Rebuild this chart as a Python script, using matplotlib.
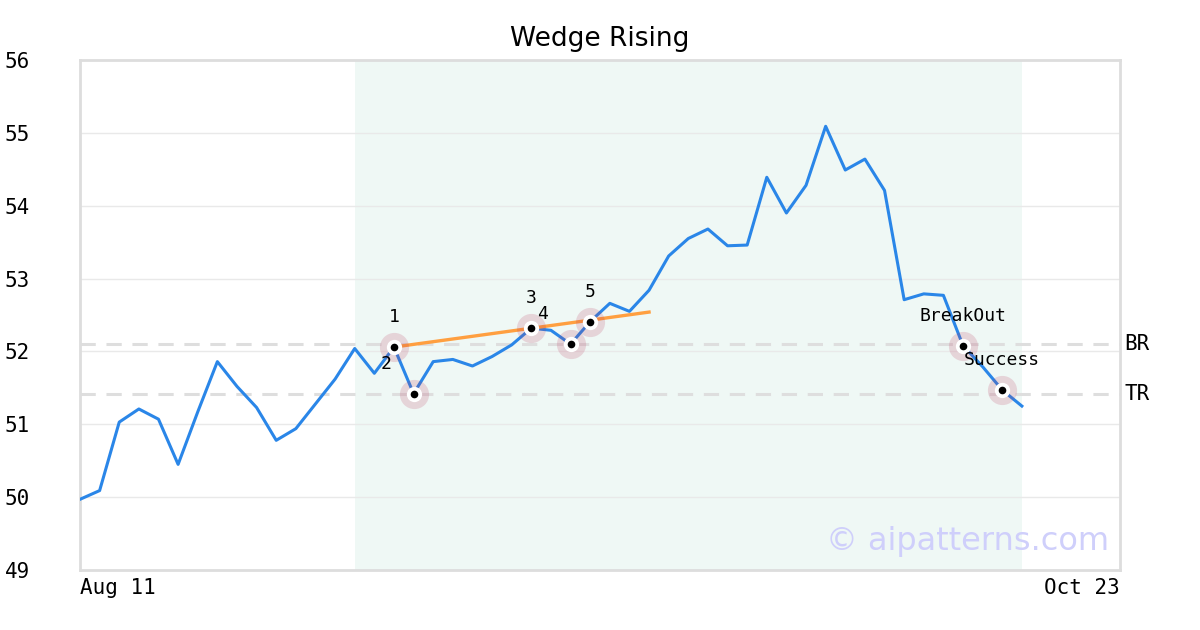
import matplotlib
matplotlib.use("Agg")
import matplotlib.pyplot as plt

# ---- data ----
values = [49.97, 50.09, 51.03, 51.21, 51.07, 50.45, 51.17, 51.86, 51.52, 51.23,
          50.78, 50.94, 51.28, 51.62, 52.04, 51.70, 52.06, 51.42, 51.86, 51.89,
          51.80, 51.93, 52.09, 52.32, 52.29, 52.10, 52.41, 52.66, 52.55, 52.84,
          53.31, 53.55, 53.68, 53.45, 53.46, 54.39, 53.90, 54.28, 55.09, 54.49,
          54.64, 54.21, 52.71, 52.79, 52.77, 52.08, 51.79, 51.47, 51.25]
x_start_label = "Aug 11"
x_end_label = "Oct 23"
x_max = 53
pattern_points = [16, 17, 23, 25, 26]          # indices of points 1..5
pattern_labels = ["1", "2", "3", "4", "5"]
event_points = [45, 47]
event_labels = ["BreakOut", "Success"]
trend_start, trend_end = 16, 29
trend_values = [52.06, 52.54]
BR = 52.10
TR = 51.41
shade_start, shade_end = 14, 48
y_ticks = [49, 50, 51, 52, 53, 54, 55, 56]

MONO = "DejaVu Sans Mono"

fig = plt.figure(figsize=(12, 6.3), dpi=100)
ax = fig.add_axes([80/1200, 60/630, 1040/1200, 510/630])

ax.set_xlim(0, x_max)
ax.set_ylim(49, 56)

ax.axvspan(shade_start, shade_end, color="#eff8f5", zorder=0, lw=0)

for yv in y_ticks:
    ax.axhline(yv, color="#e9e9e9", lw=1, zorder=1)

for lvl in (BR, TR):
    ax.axhline(lvl, color="#dedede", lw=2.2, ls=(0, (5, 3.5)), zorder=2)

xs = list(range(len(values)))
ax.plot(xs, values, color="#2a86e8", lw=2.2, zorder=3)

ax.plot([trend_start, trend_end], trend_values, color="#ff9f40", lw=2.4, zorder=4)

all_pts = pattern_points + event_points
for i in all_pts:
    ax.plot(i, values[i], "o", ms=21, color=(0.72, 0.2, 0.35), alpha=0.18, mec="none", zorder=5)
    ax.plot(i, values[i], "o", ms=11, color="white", mec="none", zorder=6)
    ax.plot(i, values[i], "o", ms=5.5, color="black", mec="none", zorder=7)

for k, (i, lab) in enumerate(zip(pattern_points, pattern_labels)):
    dx = 0 if k % 2 == 0 else -28
    ax.annotate(lab, (i, values[i]), xytext=(dx, 30), textcoords="offset pixels",
                ha="center", va="center", fontsize=13, family=MONO, zorder=8)

for i, lab in zip(event_points, event_labels):
    ax.annotate(lab, (i, values[i]), xytext=(0, 30), textcoords="offset pixels",
                ha="center", va="center", fontsize=13, family=MONO, zorder=8)

ax.text(1.004, BR, "BR", transform=ax.get_yaxis_transform(), ha="left", va="center",
        fontsize=15, family=MONO)
ax.text(1.004, TR, "TR", transform=ax.get_yaxis_transform(), ha="left", va="center",
        fontsize=15, family=MONO)

ax.text(0.99, 0.055, "© aipatterns.com", transform=ax.transAxes, ha="right", va="center",
        fontsize=23, color="#cfcffb", zorder=9)

ax.set_yticks(y_ticks)
ax.set_yticklabels([str(v) for v in y_ticks], family=MONO, fontsize=15, ha="left")
ax.tick_params(axis="y", length=0, pad=54)

ax.set_xticks([0, x_max])
xl = ax.set_xticklabels([x_start_label, x_end_label], family=MONO, fontsize=15)
xl[0].set_ha("left")
xl[1].set_ha("right")
ax.tick_params(axis="x", length=0, pad=6)

for sp in ax.spines.values():
    sp.set_color("#dddddd")
    sp.set_linewidth(2)

ax.set_title("Wedge Rising", fontsize=19, pad=10)

fig.savefig("out.png", dpi=100, facecolor="white")
